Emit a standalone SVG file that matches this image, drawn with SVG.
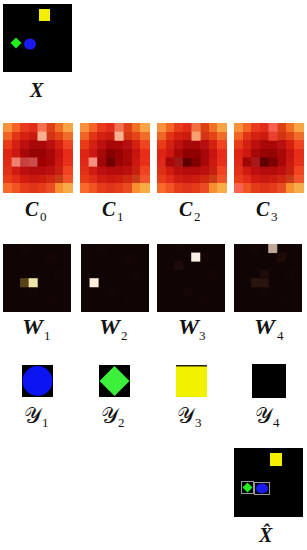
<svg xmlns="http://www.w3.org/2000/svg" xmlns:xlink="http://www.w3.org/1999/xlink" width="307" height="550" viewBox="0 0 307 550">
<style>
rect.c{width:1.06px;height:1.06px}
.lb{font-family:"Liberation Serif","DejaVu Serif",serif;font-weight:bold;font-style:italic;font-size:20px;fill:#111}
.sb{font-family:"Liberation Serif","DejaVu Serif",serif;font-size:13px;fill:#111}
.sy{font-family:"DejaVu Serif","DejaVu Sans",serif;font-weight:normal;font-size:22px;fill:#111}
.box{fill:none;stroke:#9a9a9a;stroke-width:1}
</style>
<defs>
<g id="cb" shape-rendering="crispEdges">
<rect class="c" x="0" y="0" fill="#f8903c"/><rect class="c" x="1" y="0" fill="#f46424"/><rect class="c" x="2" y="0" fill="#e83a1c"/><rect class="c" x="3" y="0" fill="#e02c18"/><rect class="c" x="4" y="0" fill="#ec4a2c"/><rect class="c" x="5" y="0" fill="#dc4014"/><rect class="c" x="6" y="0" fill="#f07024"/><rect class="c" x="7" y="0" fill="#f8a444"/>
<rect class="c" x="0" y="1" fill="#f06424"/><rect class="c" x="1" y="1" fill="#e03414"/><rect class="c" x="2" y="1" fill="#d42010"/><rect class="c" x="3" y="1" fill="#cc1c10"/><rect class="c" x="4" y="1" fill="#d83020"/><rect class="c" x="5" y="1" fill="#d43414"/><rect class="c" x="6" y="1" fill="#e44418"/><rect class="c" x="7" y="1" fill="#f06c28"/>
<rect class="c" x="0" y="2" fill="#e83c18"/><rect class="c" x="1" y="2" fill="#d42010"/><rect class="c" x="2" y="2" fill="#bc1010"/><rect class="c" x="3" y="2" fill="#a80808"/><rect class="c" x="4" y="2" fill="#a80808"/><rect class="c" x="5" y="2" fill="#b81010"/><rect class="c" x="6" y="2" fill="#d42010"/><rect class="c" x="7" y="2" fill="#f04420"/>
<rect class="c" x="0" y="3" fill="#e02414"/><rect class="c" x="1" y="3" fill="#cc1810"/><rect class="c" x="2" y="3" fill="#a80808"/><rect class="c" x="3" y="3" fill="#980404"/><rect class="c" x="4" y="3" fill="#980404"/><rect class="c" x="5" y="3" fill="#a80808"/><rect class="c" x="6" y="3" fill="#c81410"/><rect class="c" x="7" y="3" fill="#e82c18"/>
<rect class="c" x="0" y="4" fill="#e02818"/><rect class="c" x="1" y="4" fill="#c81810"/><rect class="c" x="2" y="4" fill="#a80c0c"/><rect class="c" x="3" y="4" fill="#900404"/><rect class="c" x="4" y="4" fill="#980404"/><rect class="c" x="5" y="4" fill="#a80808"/><rect class="c" x="6" y="4" fill="#cc1810"/><rect class="c" x="7" y="4" fill="#e83018"/>
<rect class="c" x="0" y="5" fill="#e03018"/><rect class="c" x="1" y="5" fill="#d01c10"/><rect class="c" x="2" y="5" fill="#bc1010"/><rect class="c" x="3" y="5" fill="#b40c0c"/><rect class="c" x="4" y="5" fill="#b40c0c"/><rect class="c" x="5" y="5" fill="#bc1010"/><rect class="c" x="6" y="5" fill="#c82010"/><rect class="c" x="7" y="5" fill="#f04420"/>
<rect class="c" x="0" y="6" fill="#e83c18"/><rect class="c" x="1" y="6" fill="#e02c18"/><rect class="c" x="2" y="6" fill="#d01c10"/><rect class="c" x="3" y="6" fill="#c81810"/><rect class="c" x="4" y="6" fill="#cc1c10"/><rect class="c" x="5" y="6" fill="#d02810"/><rect class="c" x="6" y="6" fill="#c83c18"/><rect class="c" x="7" y="6" fill="#f05428"/>
<rect class="c" x="0" y="7" fill="#f86828"/><rect class="c" x="1" y="7" fill="#f05420"/><rect class="c" x="2" y="7" fill="#e43c18"/><rect class="c" x="3" y="7" fill="#e03418"/><rect class="c" x="4" y="7" fill="#e43c18"/><rect class="c" x="5" y="7" fill="#e84c20"/><rect class="c" x="6" y="7" fill="#f89030"/><rect class="c" x="7" y="7" fill="#f8ac48"/>
</g>
<g id="wb" shape-rendering="crispEdges">
<rect x="0" y="0" width="8" height="8" fill="#100404"/>
<rect class="c" x="2" y="0" fill="#140606"/><rect class="c" x="5" y="1" fill="#150605"/><rect class="c" x="1" y="2" fill="#130505"/><rect class="c" x="6" y="3" fill="#140606"/><rect class="c" x="3" y="5" fill="#150606"/><rect class="c" x="5" y="6" fill="#130505"/>
</g>
</defs>

<g id="x-input">
<rect x="3" y="4" width="69" height="68" fill="#000"/>
<rect x="39" y="9" width="11" height="12" fill="#f4ee00"/>
<polygon points="16,37.5 21.5,43 16,48.5 10.5,43" fill="#22ee22"/>
<ellipse cx="30" cy="44" rx="6" ry="5.5" fill="#1a1af0"/>
<text class="lb" x="30" y="97">X</text>
</g>

<g id="c0">
<g transform="translate(3,123) scale(8.625)"><use href="#cb"/>
<rect class="c" x="4" y="0" fill="#f47050"/><rect class="c" x="4" y="1" fill="#f8b090"/><rect class="c" x="1" y="4" fill="#f08070"/><rect class="c" x="2" y="4" fill="#c84040"/><rect class="c" x="3" y="4" fill="#cc4c4c"/><rect class="c" x="4" y="4" fill="#a00000"/>
</g>
<text class="lb" x="25" y="216">C</text><text class="sb" x="40" y="221">0</text>
</g>
<g id="c1">
<g transform="translate(80,123) scale(8.625)"><use href="#cb"/>
<rect class="c" x="4" y="0" fill="#f07050"/><rect class="c" x="4" y="1" fill="#f8b090"/><rect class="c" x="1" y="4" fill="#f89080"/><rect class="c" x="3" y="4" fill="#700000"/><rect class="c" x="3" y="3" fill="#880000"/><rect class="c" x="2" y="4" fill="#a00808"/>
</g>
<text class="lb" x="102" y="216">C</text><text class="sb" x="117" y="221">1</text>
</g>
<g id="c2">
<g transform="translate(157,123) scale(8.625)"><use href="#cb"/>
<rect class="c" x="4" y="0" fill="#f07040"/><rect class="c" x="4" y="1" fill="#f8a070"/><rect class="c" x="1" y="4" fill="#a80808"/><rect class="c" x="2" y="4" fill="#a01818"/><rect class="c" x="3" y="4" fill="#600000"/><rect class="c" x="4" y="4" fill="#800000"/><rect class="c" x="3" y="3" fill="#900000"/><rect class="c" x="4" y="3" fill="#900000"/>
</g>
<text class="lb" x="179" y="216">C</text><text class="sb" x="194" y="221">2</text>
</g>
<g id="c3">
<g transform="translate(234,123) scale(8.625)"><use href="#cb"/>
<rect class="c" x="4" y="0" fill="#f86050"/><rect class="c" x="4" y="1" fill="#e84030"/><rect class="c" x="1" y="4" fill="#a00808"/><rect class="c" x="2" y="4" fill="#a81818"/><rect class="c" x="3" y="4" fill="#600000"/><rect class="c" x="4" y="4" fill="#800000"/><rect class="c" x="0" y="7" fill="#f86050"/>
</g>
<text class="lb" x="256" y="216">C</text><text class="sb" x="271" y="221">3</text>
</g>

<g id="w1">
<g transform="translate(3,244) scale(8.55)"><use href="#wb"/>
<rect class="c" x="2" y="4" fill="#58421a"/><rect class="c" x="3" y="4" fill="#f0e4a8"/>
</g>
<text class="lb" x="22" y="334" textLength="21" lengthAdjust="spacingAndGlyphs">W</text><text class="sb" x="44" y="340">1</text>
</g>
<g id="w2">
<g transform="translate(81,244) scale(8.55)"><use href="#wb"/>
<rect class="c" x="1" y="4" fill="#fff0e0"/>
</g>
<text class="lb" x="99" y="334" textLength="21" lengthAdjust="spacingAndGlyphs">W</text><text class="sb" x="121" y="340">2</text>
</g>
<g id="w3">
<g transform="translate(157,244) scale(8.55)"><use href="#wb"/>
<rect class="c" x="4" y="1" fill="#f8f0e0"/><rect class="c" x="2" y="2" fill="#1e0a0a"/>
</g>
<text class="lb" x="178" y="334" textLength="21" lengthAdjust="spacingAndGlyphs">W</text><text class="sb" x="199" y="340">3</text>
</g>
<g id="w4">
<g transform="translate(234,244) scale(8.55)"><use href="#wb"/>
<rect class="c" x="4" y="0" fill="#c0a898"/><rect class="c" x="2" y="4" fill="#2a140e"/><rect class="c" x="3" y="4" fill="#2a140e"/><rect class="c" x="3" y="3" fill="#1e0a06"/><rect class="c" x="5" y="1" fill="#1e0a06"/>
</g>
<text class="lb" x="254" y="334" textLength="21" lengthAdjust="spacingAndGlyphs">W</text><text class="sb" x="277" y="340">4</text>
</g>

<g id="y1">
<rect x="22" y="365" width="31" height="32" fill="#000"/>
<circle cx="37.5" cy="381" r="15" fill="#0c14f2"/>
<text class="sy" x="24" y="423">𝒴</text><text class="sb" x="42" y="427">1</text>
</g>
<g id="y2">
<rect x="99" y="365" width="31" height="32" fill="#000"/>
<polygon points="114.5,366 129.5,381 114.5,396 99.5,381" fill="#3cf03c"/>
<text class="sy" x="101" y="423">𝒴</text><text class="sb" x="118" y="427">2</text>
</g>
<g id="y3">
<rect x="176" y="365" width="31" height="32" fill="#f2f200"/>
<rect x="176" y="365" width="31" height="1.5" fill="#222"/>
<text class="sy" x="177" y="423">𝒴</text><text class="sb" x="195" y="427">3</text>
</g>
<g id="y4">
<rect x="252" y="364" width="34" height="34" fill="#000"/>
<text class="sy" x="255" y="423">𝒴</text><text class="sb" x="273" y="427">4</text>
</g>

<g id="x-hat">
<rect x="234" y="448" width="69" height="69" fill="#000"/>
<rect x="270" y="453" width="12" height="13" fill="#f4ee00"/>
<rect class="box" x="241.5" y="481.5" width="12" height="12"/>
<polygon points="247.5,482.5 252.5,487.5 247.5,492.5 242.5,487.5" fill="#22ee22"/>
<rect class="box" x="254.5" y="482.5" width="15" height="12"/>
<ellipse cx="262" cy="488.5" rx="6" ry="5" fill="#1a1af0"/>
<text class="lb" x="259" y="542">X̂</text>
</g>
</svg>
